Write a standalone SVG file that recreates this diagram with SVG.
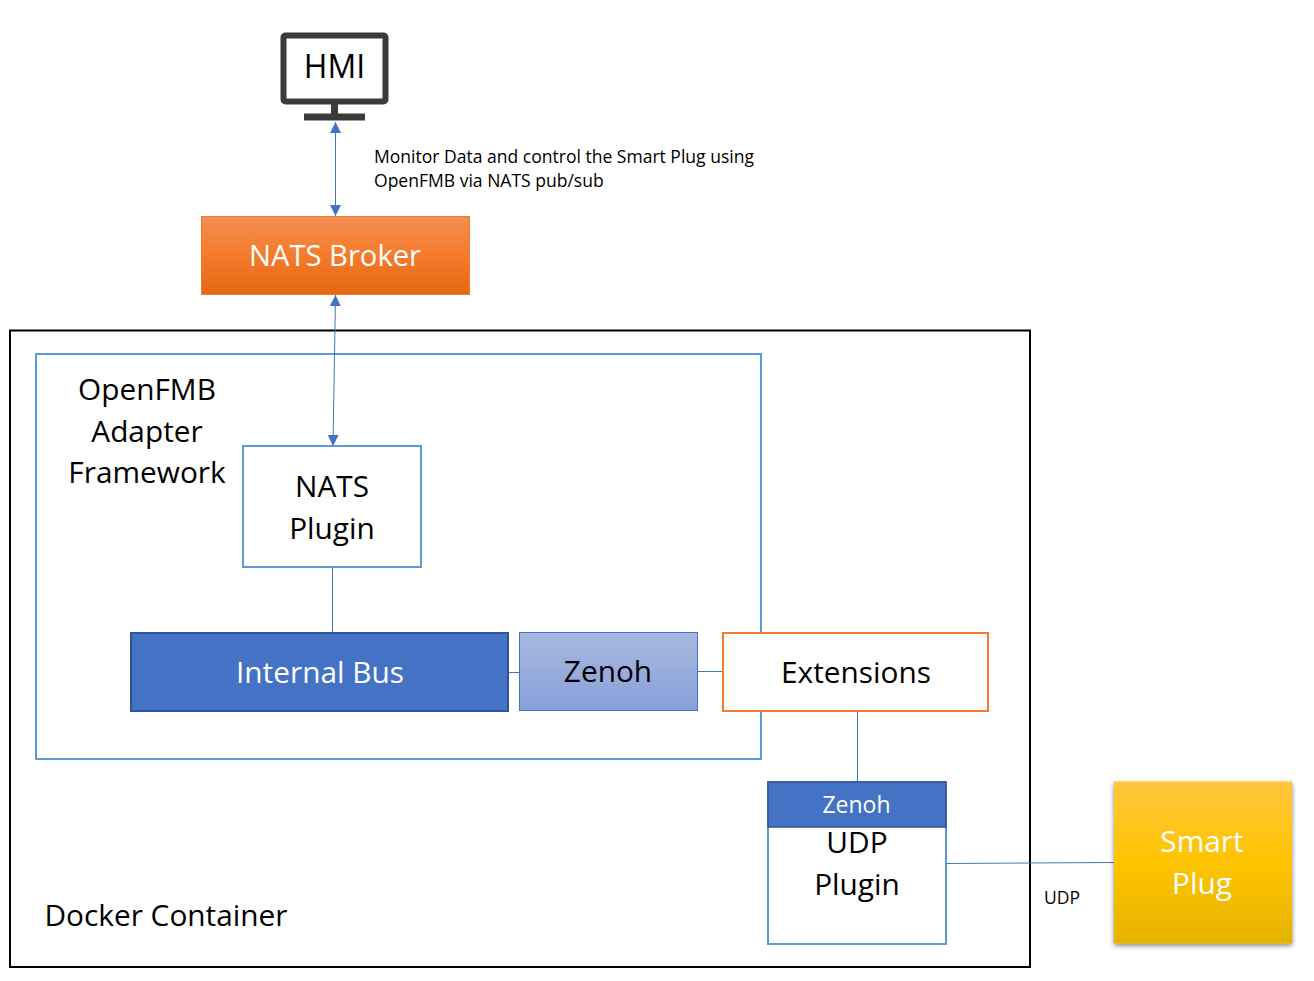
<svg xmlns="http://www.w3.org/2000/svg" width="1314" height="981" viewBox="0 0 1314 981">
<style>
text{font-family:"Open Sans","Noto Sans","Liberation Sans",sans-serif;fill:#000}
.t{font-size:29.800px;text-anchor:middle}
.w{fill:#fff}
.s{font-size:17.550px}
.c{stroke:#4472c4;stroke-width:1;fill:none}
.blue{fill:#fff;stroke:#5b9bd5;stroke-width:2}
</style>
<defs>
<linearGradient id="og" x1="0" y1="0" x2="0" y2="1"><stop offset="0" stop-color="#f38f53"/><stop offset=".5" stop-color="#f47b2c"/><stop offset="1" stop-color="#e46611"/></linearGradient>
<linearGradient id="zg" x1="0" y1="0" x2="0" y2="1"><stop offset="0" stop-color="#a9b8e0"/><stop offset="1" stop-color="#87a0d8"/></linearGradient>
<linearGradient id="yg" x1="0" y1="0" x2="0" y2="1"><stop offset="0" stop-color="#ffc63e"/><stop offset=".5" stop-color="#ffc400"/><stop offset="1" stop-color="#e5b300"/></linearGradient>
<filter id="sh" x="-10%" y="-10%" width="120%" height="120%"><feDropShadow dx="0" dy="2" stdDeviation="2.500" flood-color="#000" flood-opacity=".5"/></filter>
<marker id="a" markerUnits="userSpaceOnUse" markerWidth="13" markerHeight="12" refX="11" refY="6" orient="auto-start-reverse"><path d="M0 .5L11 6L0 11.500Z" fill="#4472c4"/></marker>
</defs>
<g id="docker-container"><rect x="10" y="330.500" width="1020" height="636.500" fill="#fff" stroke="#000" stroke-width="2"/><text class="t" x="166" y="926">Docker Container</text></g>
<g id="framework"><rect class="blue" x="36" y="354" width="725" height="405"/><text class="t"><tspan x="147" y="400">OpenFMB</tspan><tspan x="147" y="442">Adapter</tspan><tspan x="147" y="483">Framework</tspan></text></g>
<g id="connectors">
<path class="c" d="M335.500 122V216" marker-start="url(#a)" marker-end="url(#a)"/>
<path class="c" d="M335.500 295L333 446" marker-start="url(#a)" marker-end="url(#a)"/>
<path class="c" d="M332.500 567V633"/>
<path class="c" d="M508 672.500H520"/>
<path class="c" d="M697 671.500H722"/>
<path class="c" d="M857.500 711V782"/>
<path class="c" d="M946 863.500L1114 862.500"/>
</g>
<g id="hmi"><rect x="283.500" y="35.500" width="102" height="66" rx="2" fill="#fff" stroke="#3b3b3b" stroke-width="6"/><path d="M331 103h7v11h-7zM304 113.500h61v7h-61z" fill="#3b3b3b"/><text class="t" x="334.500" y="78" style="font-size:32px">HMI</text></g>
<g id="nats-broker"><rect x="201.500" y="216.500" width="268" height="78" fill="url(#og)" stroke="#ed7d31"/><text class="t w" x="335" y="266" style="font-size:29.200px">NATS Broker</text></g>
<g id="nats-plugin"><rect class="blue" x="243" y="446" width="178" height="121"/><text class="t"><tspan x="332" y="497">NATS</tspan><tspan x="332" y="539">Plugin</tspan></text></g>
<g id="internal-bus"><rect x="131" y="633" width="377" height="78" fill="#4472c4" stroke="#2f5597" stroke-width="2"/><text class="t w" x="320" y="683">Internal Bus</text></g>
<g id="zenoh"><rect x="519.500" y="632.500" width="178" height="78" fill="url(#zg)" stroke="#4472c4"/><text class="t" x="608" y="682">Zenoh</text></g>
<g id="extensions"><rect x="723" y="633" width="265" height="78" fill="#fff" stroke="#ed7d31" stroke-width="2"/><text class="t" x="856" y="683">Extensions</text></g>
<g id="udp-plugin"><rect class="blue" x="768" y="782" width="178" height="162"/><text class="t"><tspan x="857" y="853">UDP</tspan><tspan x="857" y="895">Plugin</tspan></text></g>
<g id="zenoh-tag"><rect x="768" y="782" width="178" height="45" fill="#4472c4" stroke="#2f5597" stroke-width="1.500"/><text x="856.500" y="813" font-size="23" text-anchor="middle" class="w">Zenoh</text></g>
<g id="smart-plug"><rect x="1114" y="781.500" width="178" height="162" fill="url(#yg)" filter="url(#sh)"/><text class="t w"><tspan x="1202" y="852">Smart</tspan><tspan x="1202" y="894">Plug</tspan></text></g>
<text class="s"><tspan x="374" y="163">Monitor Data and control the Smart Plug using</tspan><tspan x="374" y="187">OpenFMB via NATS pub/sub</tspan></text>
<text class="s" x="1044" y="904">UDP</text>
</svg>
